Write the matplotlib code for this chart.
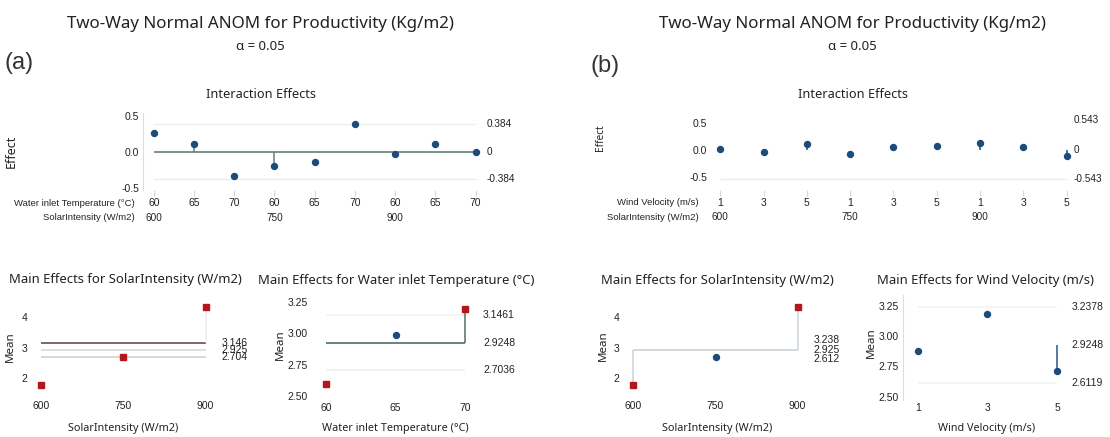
import matplotlib
matplotlib.use("Agg")
import matplotlib.pyplot as plt
import matplotlib.transforms as mtransforms

# ---------------- data ----------------
inter_pos = [1, 2, 3, 4, 5, 6, 7, 8, 9]
temp_row = ["60", "65", "70", "60", "65", "70", "60", "65", "70"]
wind_row = ["1", "3", "5", "1", "3", "5", "1", "3", "5"]
solar_row = ["600", "750", "900"]
solar_row_pos = [1, 4, 7]
inter_a = [0.265, 0.10, -0.33, -0.195, -0.145, 0.38, -0.027, 0.105, -0.008]
inter_b = [0.013, -0.037, 0.10, -0.08, 0.056, 0.074, 0.118, 0.05, -0.117]
inter_a_limit = 0.384
inter_b_limit = 0.543
inter_a_stems = [1, 3]
inter_b_stems = [2, 6, 8]

solar_levels = [600, 750, 900]
solar_means = [1.775, 2.70, 4.30]
solar_limits_a = [2.704, 2.925, 3.146]
solar_limits_b = [2.612, 2.925, 3.238]
temp_levels = [60, 65, 70]
temp_means = [2.59, 2.985, 3.20]
temp_limits = [2.7036, 2.9248, 3.1461]
wind_levels = [1, 3, 5]
wind_means = [2.875, 3.185, 2.715]
wind_limits = [2.6119, 2.9248, 3.2378]

# ---------------- style ----------------
W, H, DPI = 1110, 437, 100
NAVY = "#1d4b7a"
RED = "#b5161c"
TXT = "#222222"
SANS = ["Noto Sans", "DejaVu Sans"]
NARROW = ["Liberation Sans", "DejaVu Sans"]
plt.rcParams["font.family"] = SANS

fig = plt.figure(figsize=(W / DPI, H / DPI), dpi=DPI)
fig.patch.set_facecolor("white")


def add_ax(l, t, r, b):
    ax = fig.add_axes([l / W, 1 - b / H, (r - l) / W, (b - t) / H])
    ax._box = (l, t, r, b)
    for s in ax.spines.values():
        s.set_visible(False)
    return ax


def fx(px):
    return px / W


def fy(py):
    return 1 - py / H


def axy(ax, py):
    l, t, r, b = ax._box
    return (b - py) / (b - t)


def axx(ax, px):
    l, t, r, b = ax._box
    return (px - l) / (r - l)


def ftext(x, y, s, **kw):
    fig.text(fx(x), fy(y), s, **kw)


def right_labels(ax, vals, labels, dx_pt, size=7.5):
    tr = mtransforms.blended_transform_factory(ax.transAxes, ax.transData)
    for v, lab in zip(vals, labels):
        ax.annotate(lab, xy=(1, v), xycoords=tr, xytext=(dx_pt, 0),
                    textcoords="offset points", ha="left", va="center",
                    fontsize=size, color=TXT, family=NARROW,
                    annotation_clip=False)


# ---------------- headers ----------------
for cx, lab, lx, ly in [(260.6, "(a)", 4, 63), (852.7, "(b)", 591, 66)]:
    ftext(cx, 24, "Two-Way Normal ANOM for Productivity (Kg/m2)", ha="center",
          va="center", fontsize=12.2, color=TXT)
    ftext(cx, 46.5, "α = 0.05", ha="center", va="center", fontsize=9.5, color=TXT)
    ftext(lx, ly, lab, ha="left", va="center", fontsize=17, color="#333333",
          family=["Liberation Sans", "DejaVu Sans"])
    ftext(cx, 95, "Interaction Effects", ha="center", va="center", fontsize=9.2,
          color=TXT)


# ---------------- interaction panels ----------------
def interaction(box, xlim, ylim, vals, limit, stems, row1, row1_title,
                row_right, rows_y, lab_dx, center_line, eff_xy, eff_kw,
                ytick_pad, lower_only=False):
    ax = add_ax(*box)
    ax.set_xlim(*xlim)
    ax.set_ylim(*ylim)
    if center_line:
        ax.hlines(0, inter_pos[0], inter_pos[-1], color="#62807a", lw=1.2, zorder=2)
    if not lower_only:
        ax.hlines(limit, inter_pos[0], inter_pos[-1], color="#efefef", lw=1, zorder=1)
    ax.hlines(-limit, inter_pos[0], inter_pos[-1], color="#ececec", lw=1, zorder=1)
    for i in stems:
        ax.vlines(inter_pos[i], 0, vals[i],
                  color="#62807a" if center_line else NAVY, lw=1.1, zorder=2)
    ax.plot(inter_pos, vals, ls="none", marker="o", ms=4.3, color=NAVY, zorder=3)
    ax.set_yticks([-0.5, 0.0, 0.5])
    ax.set_yticklabels(["-0.5", "0.0", "0.5"], family=NARROW)
    ax.tick_params(axis="y", length=0, pad=ytick_pad, labelsize=7.5, labelcolor=TXT)
    ax.set_xticks(inter_pos)
    ax.set_xticklabels([])
    ax.tick_params(axis="x", length=4, color="#d8d8d8", width=0.8)
    right_labels(ax, [limit, 0, -limit],
                 [f"{limit:g}", "0", f"-{limit:g}"], lab_dx, size=7.2)
    tr = mtransforms.blended_transform_factory(ax.transData, ax.transAxes)
    y1 = axy(ax, rows_y[0])
    y2 = axy(ax, rows_y[1])
    for p, s in zip(inter_pos, row1):
        ax.text(p, y1, s, transform=tr, ha="center", va="center", fontsize=7.5,
                color=TXT, family=NARROW)
    for p, s in zip(solar_row_pos, solar_row):
        ax.text(p, y2, s, transform=tr, ha="center", va="center", fontsize=7.2,
                color=TXT, family=NARROW)
    xr = axx(ax, row_right)
    ax.text(xr, y1, row1_title, transform=ax.transAxes, ha="right", va="center",
            fontsize=6.8, color=TXT, family=NARROW)
    ax.text(xr, y2, "SolarIntensity (W/m2)", transform=ax.transAxes, ha="right",
            va="center", fontsize=6.8, color=TXT, family=NARROW)
    ftext(eff_xy[0], eff_xy[1], "Effect", rotation=90, ha="center", va="center",
          color=TXT, **eff_kw)
    return ax


ax1 = interaction((143.3, 113, 486, 190), (0.74, 9.26), (-0.53, 0.535), inter_a,
                  inter_a_limit, inter_a_stems, temp_row,
                  "Water inlet Temperature (°C)", 134.5, (203.3, 217.7), 0.5,
                  True, (11, 151.7), dict(fontsize=9, fontweight="bold"), 3)
ax1.spines["left"].set_visible(True)
ax1.spines["left"].set_color("#dddddd")

ax2 = interaction((709.1, 113, 1075.3, 190), (0.74, 9.2), (-0.746, 0.68), inter_b,
                  inter_b_limit, inter_b_stems, wind_row,
                  "Wind Velocity (m/s)", 699, (202.7, 217.3), -1.5,
                  False, (600, 137.5), dict(fontsize=7.2), 1.5, lower_only=True)


# ---------------- main effects panels ----------------
def main_eff(box, xlim, ylim, levels, means, limits, lines, stems, yticks,
             yticklabels, title_xy, title, mean_xy, xlab_xy, xlab, lab_dx,
             lab_fmt, xpad, ypad, lab_size=7.5):
    ax = add_ax(*box)
    ax.set_xlim(*xlim)
    ax.set_ylim(*ylim)
    lo, c, hi = limits
    for val, col in zip((lo, c, hi), lines):
        if col:
            ax.hlines(val, levels[0], levels[-1], color=col, lw=1.2, zorder=1)
    for i, col in stems:
        ax.vlines(levels[i], c if col[1] == "c" else hi, means[i], color=col[0],
                  lw=1.1, zorder=1)
    for x, m in zip(levels, means):
        if m > hi or m < lo:
            ax.plot([x], [m], ls="none", marker="s", ms=4.5, color=RED, zorder=3)
        else:
            ax.plot([x], [m], ls="none", marker="o", ms=4.3, color=NAVY, zorder=3)
    ax.set_yticks(yticks)
    ax.set_yticklabels(yticklabels, family=NARROW)
    ax.set_xticks(levels)
    ax.set_xticklabels([str(v) for v in levels], family=NARROW)
    ax.tick_params(axis="y", length=0, pad=ypad, labelsize=7.5, labelcolor=TXT)
    ax.tick_params(axis="x", length=0, pad=xpad, labelsize=7.5, labelcolor=TXT)
    right_labels(ax, [hi, c, lo], [lab_fmt.format(hi), lab_fmt.format(c),
                                   lab_fmt.format(lo)], lab_dx, size=lab_size)
    ftext(title_xy[0], title_xy[1], title, ha="center", va="center",
          fontsize=9.4, color=TXT)
    ftext(mean_xy[0], mean_xy[1], "Mean", rotation=90, ha="center", va="center",
          fontsize=8.3, color=TXT)
    ftext(xlab_xy[0], xlab_xy[1], xlab, ha="center", va="center", fontsize=7.8,
          color=TXT)
    return ax


main_eff((35.6, 301.3, 211, 393.7), (590, 910), (1.5, 4.5), solar_levels,
         solar_means, solar_limits_a, ("#d2d2d2", "#d9d9d9", "#6e4b4b"),
         [(2, ("#eeeeee", "h"))], [2, 3, 4], ["2", "3", "4"], (125.5, 280),
         "Main Effects for SolarIntensity (W/m2)", (10, 347), (123.3, 428),
         "SolarIntensity (W/m2)", 7.7, "{:.3f}", 5, 6, lab_size=7.5)

main_eff((313.5, 296.1, 478.9, 401.9), (59.1, 71), (2.45, 3.3), temp_levels,
         temp_means, temp_limits, ("#f0f0f0", "#4f6d6d", "#f3f3f3"),
         [(2, ("#4f6d6d", "c"))], [2.5, 2.75, 3.0, 3.25],
         ["2.50", "2.75", "3.00", "3.25"], (396, 280.7),
         "Main Effects for Water inlet Temperature (°C)", (280, 345),
         (395, 429), "Water inlet Temperature (°C)", 3, "{:.4f}", 1, 4)

main_eff((628, 301.3, 803, 393.7), (590, 910), (1.5, 4.5), solar_levels,
         solar_means, solar_limits_b, (None, "#c9d3db", None),
         [(0, ("#c9d3db", "c")), (2, ("#c9d3db", "c"))], [2, 3, 4],
         ["2", "3", "4"], (717.5, 280.7),
         "Main Effects for SolarIntensity (W/m2)", (603, 346), (716.7, 429),
         "SolarIntensity (W/m2)", 7.5, "{:.3f}", 5, 6, lab_size=7.5)

ax6 = main_eff((902.7, 295, 1071.2, 400), (0.57, 5.4), (2.473, 3.341), wind_levels,
               wind_means, wind_limits, ("#f2f2f2", None, "#f2f2f2"),
               [(2, ("#2b5580", "c"))], [2.5, 2.75, 3.0, 3.25],
               ["2.50", "2.75", "3.00", "3.25"], (985.5, 280.7),
               "Main Effects for Wind Velocity (m/s)", (871, 343), (987, 429),
               "Wind Velocity (m/s)", 0, "{:.4f}", 2, 3)
ax6.spines["left"].set_visible(True)
ax6.spines["left"].set_color("#dddddd")

fig.savefig("out.png", dpi=DPI, facecolor="white")
